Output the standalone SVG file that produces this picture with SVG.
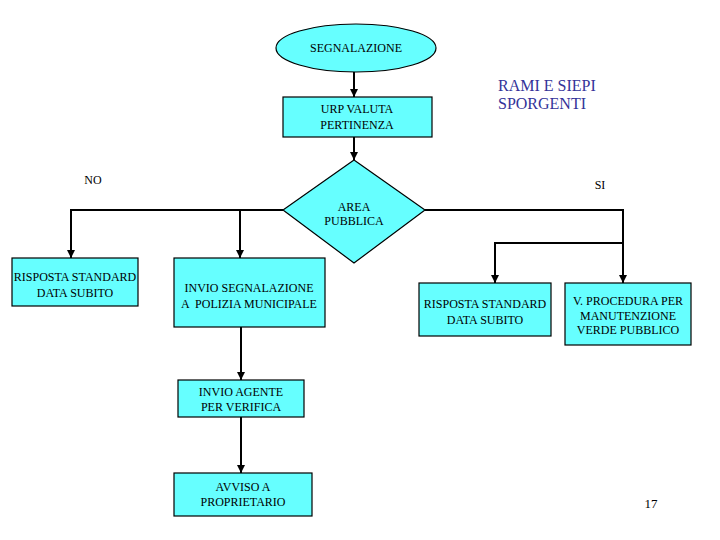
<svg xmlns="http://www.w3.org/2000/svg" width="720" height="540" viewBox="0 0 720 540">
<style>
.n{fill:#66FFFF;stroke:#000;stroke-width:1.2}
.l{fill:none;stroke:#000;stroke-width:2}
.t{font-family:"Times New Roman","Liberation Serif",serif;font-size:12px;text-anchor:middle;fill:#000}
</style>
<defs>
<marker id="a" viewBox="0 0 10 10" refX="10" refY="5" markerWidth="4" markerHeight="4" orient="auto" markerUnits="strokeWidth">
<path d="M0,0 L10,5 L0,10 z" fill="#000"/>
</marker>
</defs>
<rect width="720" height="540" fill="#fff"/>
<g id="connectors">
<path class="l" d="M354,72 V97" marker-end="url(#a)"/>
<path class="l" d="M354,137 V160" marker-end="url(#a)"/>
<path class="l" d="M283,210 H71 V258" marker-end="url(#a)"/>
<path class="l" d="M240,210 V258" marker-end="url(#a)"/>
<path class="l" d="M425,210 H623 V283" marker-end="url(#a)"/>
<path class="l" d="M623,243 H495 V283" marker-end="url(#a)"/>
<path class="l" d="M241,327 V380" marker-end="url(#a)"/>
<path class="l" d="M241,417 V473" marker-end="url(#a)"/>
</g>
<g id="segnalazione">
<ellipse class="n" cx="356" cy="48" rx="80" ry="24"/>
<text class="t" x="356" y="52">SEGNALAZIONE</text>
</g>
<g id="urp">
<rect class="n" x="283" y="97" width="149" height="40"/>
<text class="t" x="357" y="113">URP VALUTA</text>
<text class="t" x="357" y="129">PERTINENZA</text>
</g>
<g id="area">
<polygon class="n" points="354,160 425,210 354,263 283,210"/>
<text class="t" x="354" y="211">AREA</text>
<text class="t" x="354" y="225">PUBBLICA</text>
</g>
<g id="risposta1">
<rect class="n" x="12" y="258" width="126" height="48"/>
<text class="t" x="75" y="281">RISPOSTA STANDARD</text>
<text class="t" x="75" y="297">DATA SUBITO</text>
</g>
<g id="invio-segn">
<rect class="n" x="174" y="258" width="151" height="69"/>
<text class="t" x="249" y="292">INVIO SEGNALAZIONE</text>
<text class="t" x="249" y="308" xml:space="preserve">A  POLIZIA MUNICIPALE</text>
</g>
<g id="risposta2">
<rect class="n" x="419" y="283" width="132" height="53"/>
<text class="t" x="485" y="308">RISPOSTA STANDARD</text>
<text class="t" x="485" y="324">DATA SUBITO</text>
</g>
<g id="procedura">
<rect class="n" x="565" y="283" width="126" height="62"/>
<text class="t" x="628" y="305">V. PROCEDURA PER</text>
<text class="t" x="628" y="320">MANUTENZIONE</text>
<text class="t" x="628" y="334">VERDE PUBBLICO</text>
</g>
<g id="invio-agente">
<rect class="n" x="178" y="380" width="126" height="37"/>
<text class="t" x="241" y="396">INVIO AGENTE</text>
<text class="t" x="241" y="411">PER VERIFICA</text>
</g>
<g id="avviso">
<rect class="n" x="174" y="473" width="138" height="43"/>
<text class="t" x="243" y="491">AVVISO A</text>
<text class="t" x="243" y="506">PROPRIETARIO</text>
</g>
<g id="labels">
<text class="t" x="93" y="184">NO</text>
<text class="t" x="600" y="189">SI</text>
<text class="t" x="498" y="91" style="font-size:16px;fill:#333399;text-anchor:start">RAMI E SIEPI</text>
<text class="t" x="498" y="109" style="font-size:16px;fill:#333399;text-anchor:start">SPORGENTI</text>
<text class="t" x="651" y="508" style="font-size:13px">17</text>
</g>
</svg>
